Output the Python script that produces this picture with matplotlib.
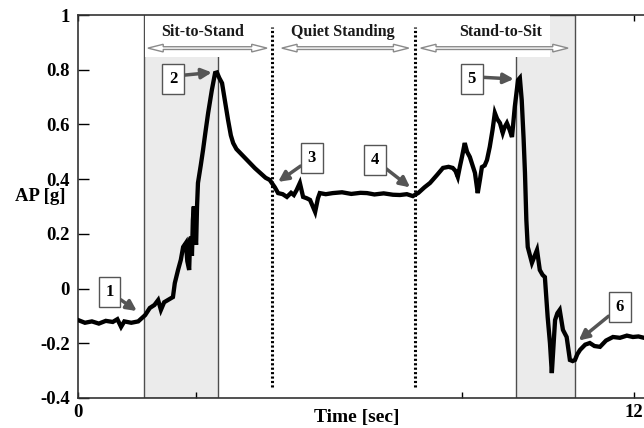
import matplotlib
matplotlib.use("Agg")
import matplotlib.pyplot as plt
from matplotlib.patches import Rectangle, Polygon

# AP acceleration trace (segment by segment)
time_s = [0, 0.15, 0.3, 0.45, 0.6, 0.75, 0.85, 0.93, 1.0, 1.15, 1.3, 1.45,
          1.55, 1.65, 1.73, 1.79, 1.86, 1.94, 2.05, 2.09, 2.16, 2.22, 2.27, 2.33,
          2.36, 2.40, 2.42, 2.44, 2.46, 2.48, 2.50, 2.52, 2.55, 2.57, 2.59, 2.65,
          2.70, 2.75, 2.81, 2.89, 2.96, 3.0,
          3.05, 3.11, 3.17, 3.24, 3.30, 3.35, 3.42, 3.5, 3.6, 3.71, 3.82, 3.93,
          4.05, 4.14, 4.25, 4.32, 4.42, 4.51, 4.6, 4.66, 4.72, 4.79, 4.86, 4.94,
          5.01, 5.07, 5.12, 5.18, 5.22,
          5.35, 5.5, 5.7, 5.9, 6.1, 6.24, 6.4, 6.6, 6.8, 6.95, 7.1, 7.23,
          7.35, 7.48, 7.6, 7.75, 7.88, 8.0, 8.09, 8.15, 8.2, 8.25, 8.29, 8.35,
          8.4, 8.46, 8.52, 8.57, 8.63, 8.68, 8.72, 8.78, 8.83, 8.89, 8.95, 9.0,
          9.05, 9.11, 9.17, 9.21, 9.26, 9.32, 9.37, 9.43, 9.5, 9.54,
          9.58, 9.62, 9.65, 9.68, 9.71, 9.8, 9.86, 9.91, 9.97, 10.03, 10.08,
          10.14, 10.19, 10.23, 10.27, 10.3, 10.35, 10.4, 10.44, 10.47, 10.55,
          10.62, 10.68, 10.73, 10.78, 10.84,
          10.95, 11.05, 11.15, 11.27, 11.4, 11.55, 11.7, 11.85, 11.98, 12.1, 12.22]
ap_g = [-0.115, -0.125, -0.12, -0.128, -0.118, -0.122, -0.112, -0.14, -0.12, -0.125, -0.12, -0.097,
        -0.071, -0.06, -0.042, -0.078, -0.05, -0.042, -0.031, 0.02, 0.068, 0.105, 0.152, 0.167,
        0.10, 0.068, 0.18, 0.189, 0.12, 0.25, 0.30, 0.20, 0.16, 0.30, 0.386, 0.45,
        0.507, 0.57, 0.642, 0.726, 0.788, 0.79,
        0.77, 0.751, 0.689, 0.616, 0.56, 0.532, 0.51, 0.496, 0.478, 0.459, 0.44, 0.423,
        0.405, 0.397, 0.37, 0.349, 0.345, 0.335, 0.35, 0.342, 0.36, 0.386, 0.335, 0.33,
        0.324, 0.30, 0.28, 0.33, 0.349,
        0.345, 0.349, 0.352, 0.346, 0.35, 0.349, 0.344, 0.348, 0.343, 0.342, 0.345, 0.338,
        0.35, 0.37, 0.386, 0.415, 0.441, 0.445, 0.441, 0.43, 0.408, 0.45, 0.481, 0.532,
        0.50, 0.481, 0.45, 0.423, 0.349, 0.40, 0.444, 0.45, 0.47, 0.518, 0.58, 0.642,
        0.62, 0.605, 0.569, 0.59, 0.605, 0.58, 0.554, 0.664, 0.762, 0.77,
        0.689, 0.55, 0.423, 0.25, 0.152, 0.094, 0.12, 0.141, 0.068, 0.05, 0.042,
        -0.104, -0.20, -0.309, -0.20, -0.115, -0.09, -0.078, -0.12, -0.151, -0.177,
        -0.261, -0.265, -0.261, -0.24, -0.224,
        -0.205, -0.199, -0.21, -0.213, -0.19, -0.177, -0.18, -0.172, -0.177, -0.175, -0.18]

# shaded transition windows and phase boundaries
shade_spans = [(1.42, 3.02), (9.45, 10.73)]
phase_lines = [4.19, 7.27]

phase_names = ["Sit-to-Stand", "Quiet Standing", "Stand-to-Sit"]
phase_text_x = [2.68, 5.72, 9.13]
phase_arrow_x = [(1.51, 4.08), (4.40, 7.14), (7.40, 10.58)]

# numbered event markers: label position and arrow target
event_ids = ["1", "2", "3", "4", "5", "6"]
event_box = [(0.68, -0.012), (2.05, 0.766), (5.05, 0.477), (6.41, 0.47), (8.5, 0.766), (11.7, -0.067)]
event_tip = [(1.27, -0.082), (2.89, 0.79), (4.32, 0.39), (7.17, 0.37), (9.41, 0.766), (10.81, -0.19)]
event_relpos = [(0.5, 0.5), (1.0, 0.7), (0.5, 0.5), (0.5, 0.5), (1.0, 0.63), (0.5, 0.5)]

ytick_vals = [-0.4, -0.2, 0, 0.2, 0.4, 0.6, 0.8, 1]
ytick_txt = ["-0.4", "-0.2", "0", "0.2", "0.4", "0.6", "0.8", "1"]
xtick_vals = [0, 2.55, 8.3, 12]
xtick_txt = ["0", "", "", "12"]

serif = "Liberation Serif"
plt.rcParams["font.family"] = serif
plt.rcParams["font.weight"] = "bold"

fig = plt.figure(figsize=(6.44, 4.28), dpi=100)
ax = fig.add_axes([78 / 644, 30 / 428, 566 / 644, 383 / 428])
ax.set_xlim(0, 12.22)
ax.set_ylim(-0.4, 1.0)

for x0, x1 in shade_spans:
    ax.add_patch(Rectangle((x0, -0.4), x1 - x0, 1.4, facecolor="#ebebeb",
                           edgecolor="#4d4d4d", lw=1.0, zorder=1))

# white backing behind the phase labels
ax.add_patch(Rectangle((1.45, 0.846), 2.69, 0.154, facecolor="white", edgecolor="none", zorder=2))
ax.add_patch(Rectangle((7.38, 0.846), 2.81, 0.154, facecolor="white", edgecolor="none", zorder=2))

for xl in phase_lines:
    ax.plot([xl, xl], [-0.36, 0.956], color="black", lw=2.2,
            linestyle=(0, (0.7, 0.75)), zorder=3)

ax.plot(time_s, ap_g, color="black", lw=3.1, zorder=4, solid_joinstyle="miter")


def hollow_arrow(ax, x0, x1, y):
    hl, hw, sw = 0.33, 0.014, 0.005
    verts = [(x0, y), (x0 + hl, y + hw), (x0 + hl, y + sw), (x1 - hl, y + sw),
             (x1 - hl, y + hw), (x1, y), (x1 - hl, y - hw), (x1 - hl, y - sw),
             (x0 + hl, y - sw), (x0 + hl, y - hw)]
    ax.add_patch(Polygon(verts, closed=True, facecolor="white",
                         edgecolor="#8a8a8a", lw=1.0, zorder=5))


for name, tx, (a0, a1) in zip(phase_names, phase_text_x, phase_arrow_x):
    ax.text(tx, 0.938, name, ha="center", va="center", fontsize=11.5,
            fontweight="bold", color="#1a1a1a", zorder=6)
    hollow_arrow(ax, a0, a1, 0.879)

for lab, pos, tip, rp in zip(event_ids, event_box, event_tip, event_relpos):
    ax.annotate(lab, xy=tip, xytext=pos, ha="center", va="center",
                fontsize=12, fontweight="bold", zorder=7,
                bbox=dict(boxstyle="square,pad=0.4", fc="white", ec="#555555", lw=1.0),
                arrowprops=dict(arrowstyle="-|>,head_width=0.25,head_length=0.5",
                                color="#555555", lw=2.5, shrinkA=0, shrinkB=0,
                                relpos=rp))

ax.set_yticks(ytick_vals)
ax.set_yticklabels(ytick_txt)
ax.set_xticks(xtick_vals)
ax.set_xticklabels(xtick_txt)
ax.tick_params(axis="y", direction="in", length=8, width=1, pad=6, labelsize=13.5)
ax.tick_params(axis="x", direction="in", length=4, width=1, pad=4, labelsize=13.5,
               top=True)
for lab in ax.get_xticklabels() + ax.get_yticklabels():
    lab.set_fontweight("bold")

ax.spines["right"].set_visible(False)
for s in ["left", "bottom", "top"]:
    ax.spines[s].set_linewidth(1.2)
    ax.spines[s].set_color("#333333")

ax.set_ylabel("AP [g]", rotation=0, fontsize=13.5, fontweight="bold")
ax.yaxis.set_label_coords(-0.067, 0.504)
ax.set_xlabel("Time [sec]", fontsize=14, fontweight="bold", va="center")
ax.xaxis.set_label_coords(0.493, -0.05)

fig.savefig("out.png", dpi=100)
